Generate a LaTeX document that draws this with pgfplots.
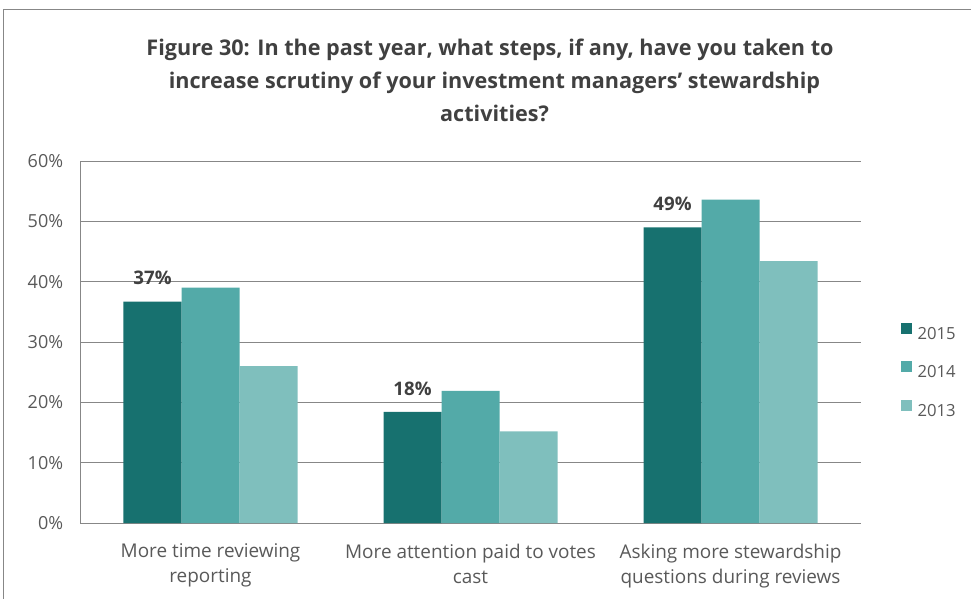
\documentclass[border=0pt]{standalone}
\usepackage{pgfplots}
\pgfplotsset{compat=1.18}
\usepackage{fontspec}
\setmainfont{Open Sans}
\definecolor{c15}{HTML}{17716F}
\definecolor{c14}{HTML}{53AAA8}
\definecolor{c13}{HTML}{7FBFBD}
\definecolor{txt}{HTML}{404040}
\definecolor{tick}{HTML}{595959}
\definecolor{gridc}{HTML}{878787}
\begin{document}
\begin{tikzpicture}
\useasboundingbox (0,0) rectangle (728.25pt,-449.25pt);
\draw[gridc, line width=0.75pt] (2.25pt,-470pt) -- (2.25pt,-7.5pt) -- (745pt,-7.5pt);
\begin{scope}[every node/.style={anchor=base, inner sep=0pt, font=\fontsize{16.2}{20}\selectfont\bfseries, text=txt}]
\node at (367.5pt,-42pt) {Figure 30: In the past year, what steps, if any, have you taken to};
\node at (370.9pt,-66.75pt) {increase scrutiny of your investment managers’ stewardship};
\node at (370.9pt,-91.5pt) {activities?};
\end{scope}
\begin{axis}[
  at={(60.375pt,-392.25pt)}, anchor=south west,
  scale only axis, width=585pt, height=271.5pt,
  ybar=0pt, bar width=43.5pt,
  xmin=-0.5, xmax=2.5, ymin=0, ymax=60,
  xtick={0,1,2},
  xticklabels={More time reviewing\\reporting, More attention paid to votes\\cast, Asking more stewardship\\questions during reviews},
  xticklabel style={align=center, font=\fontsize{14.2}{19}\selectfont, text=tick, yshift=-12pt},
  ytick={0,10,...,60},
  yticklabel={\pgfmathprintnumber{\tick}\%},
  yticklabel style={font=\fontsize{13.5}{15}\selectfont, text=tick, xshift=-9.5pt},
  /pgf/number format/assume math mode=true,
  major tick length=0pt,
  ymajorgrids, grid style={gridc, line width=0.75pt},
  axis x line*=bottom, axis y line*=left,
  axis line style={gridc, line width=0.75pt, -},
  legend image code/.code={\fill[#1] (0pt,0pt) rectangle (8.25pt,8.25pt);},
  legend style={at={(1.0468,0.424)}, anchor=west, draw=none, fill=none,
    font=\fontsize{12.5}{13}\selectfont, text=tick, row sep=16.5pt,
    nodes={inner sep=0pt, text height=8.25pt, text depth=0pt},
    /tikz/every odd column/.append style={column sep=4pt}},
  legend cell align=left,
]
\addplot[fill=c15, draw=none, nodes near coords, point meta=explicit symbolic,
  every node near coord/.append style={font=\fontsize{14}{15}\selectfont\bfseries, text=txt, yshift=9pt}]
  coordinates {(0,36.7)[37\%] (1,18.4)[18\%] (2,49.0)[49\%]};
\addplot[fill=c14, draw=none] coordinates {(0,39.0) (1,21.9) (2,53.6)};
\addplot[fill=c13, draw=none] coordinates {(0,26.0) (1,15.2) (2,43.4)};
\legend{2015,2014,2013}
\end{axis}
\end{tikzpicture}
\end{document}
